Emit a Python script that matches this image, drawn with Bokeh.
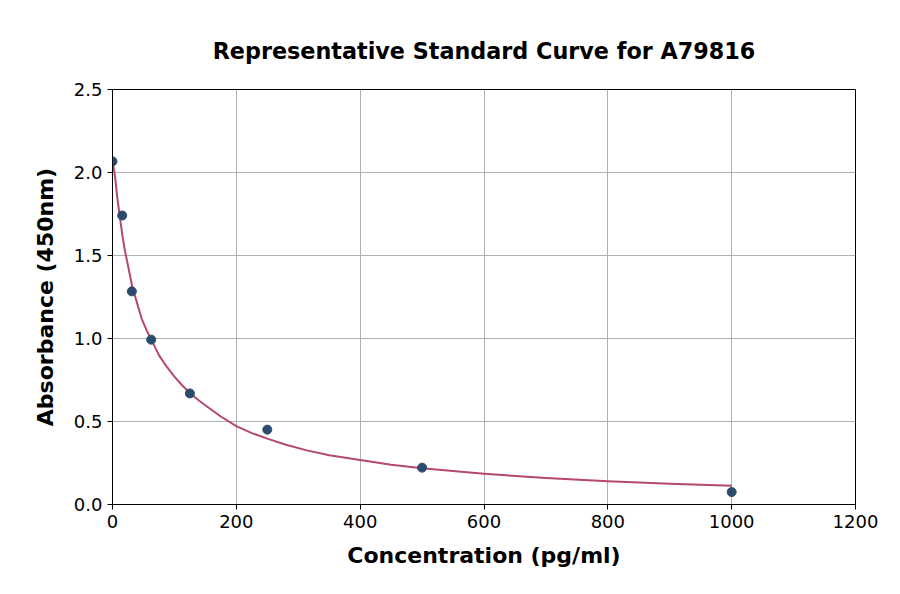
from bokeh.plotting import figure
from bokeh.models import Range1d, FixedTicker, NumeralTickFormatter, ColumnDataSource
from bokeh.embed import file_html
from bokeh.resources import INLINE

# Data
concentration = [0, 15.625, 31.25, 62.5, 125, 250, 500, 1000]
absorbance = [2.067, 1.741, 1.284, 0.993, 0.669, 0.451, 0.222, 0.075]

# Fitted curve
curve_x = [0, 4, 8, 12, 16, 20, 25, 32, 40, 47, 55, 62.5, 75, 87.5, 100, 112, 125, 140, 152, 175,
           200, 225, 250, 280, 314, 350, 400, 450, 500, 600, 700, 800, 900, 1000]
curve_y = [2.07, 1.98, 1.84, 1.73, 1.62, 1.53, 1.44, 1.31, 1.21, 1.12, 1.05, 0.995, 0.9, 0.83, 0.77,
           0.72, 0.672, 0.625, 0.592, 0.53, 0.472, 0.43, 0.397, 0.36, 0.326, 0.297, 0.268, 0.24,
           0.218, 0.185, 0.16, 0.14, 0.125, 0.113]

x_ticks = [0, 200, 400, 600, 800, 1000, 1200]
y_ticks = [0.0, 0.5, 1.0, 1.5, 2.0, 2.5]

title_text = "Representative Standard Curve for A79816"
x_label = "Concentration (pg/ml)"
y_label = "Absorbance (450nm)"

FONT = "DejaVu Sans"

p = figure(width=884, height=578, output_backend="svg", toolbar_location=None,
           x_range=Range1d(0, 1200), y_range=Range1d(0, 2.5),
           min_border_left=112, min_border_right=29, min_border_top=89, min_border_bottom=74,
           title=title_text)

p.title.text_font = FONT
p.title.text_font_size = "22.3px"
p.title.text_font_style = "bold"
p.title.align = "center"
p.title.text_color = "black"
p.title.standoff = 52

p.outline_line_color = "black"
p.outline_line_width = 1
p.background_fill_color = "white"
p.border_fill_color = "white"

for ax in (p.xaxis[0], p.yaxis[0]):
    ax.axis_line_color = "black"
    ax.axis_line_width = 1
    ax.major_tick_line_color = "black"
    ax.major_tick_out = 5
    ax.major_tick_in = 0
    ax.minor_tick_line_color = None
    ax.major_label_text_font = FONT
    ax.major_label_text_font_size = "18px"
    ax.major_label_text_color = "black"
    ax.axis_label_text_font = FONT
    ax.axis_label_text_font_size = "22px"
    ax.axis_label_text_font_style = "bold"
    ax.axis_label_text_color = "black"

p.xaxis.ticker = FixedTicker(ticks=x_ticks)
p.yaxis.ticker = FixedTicker(ticks=y_ticks)
p.yaxis.formatter = NumeralTickFormatter(format="0.0")
p.xaxis.axis_label = x_label
p.yaxis.axis_label = y_label
p.xaxis.major_label_standoff = 5
p.yaxis.major_label_standoff = 5
p.xaxis.axis_label_standoff = 12
p.yaxis.axis_label_standoff = 13

p.xgrid.grid_line_color = "#b0b0b0"
p.ygrid.grid_line_color = "#b0b0b0"
p.xgrid.grid_line_width = 1
p.ygrid.grid_line_width = 1

curve_src = ColumnDataSource(dict(x=curve_x, y=curve_y))
pts_src = ColumnDataSource(dict(x=concentration, y=absorbance))

p.line("x", "y", source=curve_src, line_color="#b5486f", line_width=2, line_join="round")
p.scatter("x", "y", source=pts_src, size=9, fill_color="#2b4b6d", line_color="#2b4b6d")

open("out.html", "w").write(file_html(p, INLINE))
